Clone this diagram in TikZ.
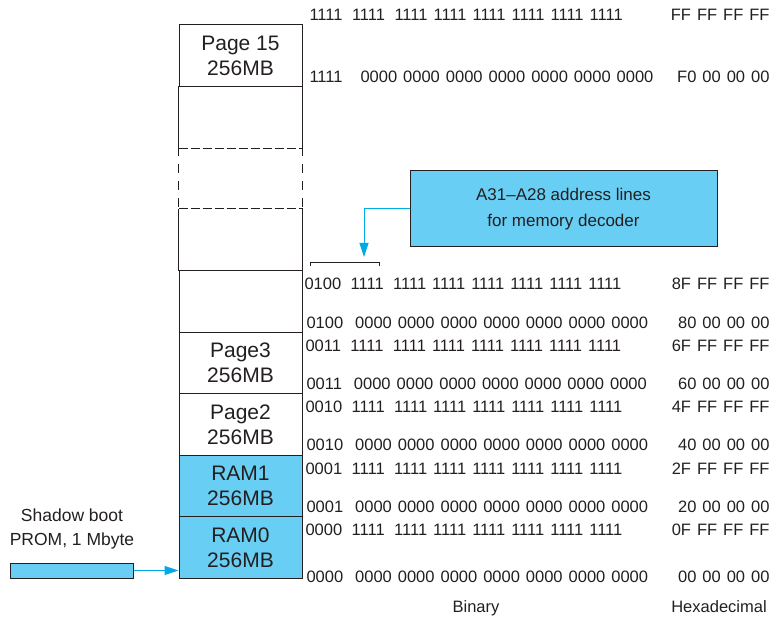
\documentclass[tikz,border=0pt]{standalone}
\usepackage{fontspec}
\setmainfont{Liberation Sans}
\usetikzlibrary{arrows.meta,calc}
\definecolor{ink}{RGB}{35,31,32}
\definecolor{lblue}{RGB}{104,206,244}
\definecolor{arrowblue}{RGB}{0,170,228}
\newcommand{\widespaces}{\spaceskip=6pt\relax}
\newcommand{\gp}{\hspace{9.5pt}}
\begin{document}
\begin{tikzpicture}[x=1pt,y=1pt,line width=1pt,
  cell/.style={minimum width=123pt,minimum height=61.5pt,inner sep=0pt,align=center,
    font=\fontsize{21}{25}\selectfont,text=ink},
  bin/.style={anchor=west,inner sep=0pt,text=ink,font=\fontsize{16.5}{20}\selectfont,
    execute at begin node=\widespaces},
  hex/.style={anchor=east,inner sep=0pt,text=ink,font=\fontsize{16.5}{20}\selectfont,
    execute at begin node=\widespaces},
  lbl/.style={inner sep=0pt,text=ink,align=center,font=\fontsize{16.5}{24}\selectfont},
  barrow/.style={draw=arrowblue,line width=1pt,-{Triangle[length=14pt,width=9pt]}},
  hdash/.style={dash pattern=on 9pt off 3pt},
  vdash/.style={dash pattern=on 9pt off 8pt}]
\useasboundingbox (0,0) rectangle (777,-617);

% memory column
\node[cell,draw=ink] (p15) at (240.5,-55.75) {Page 15\\256MB};
\node[cell] (e1) at (240.5,-117.25) {};
\node[cell] (gapc) at (240.5,-178.75) {};
\node[cell] (e2) at (240.5,-240.25) {};
\node[cell,draw=ink] (e3) at (240.5,-301.75) {};
\node[cell,draw=ink] (p3) at (240.5,-363.25) {Page3\\256MB};
\node[cell,draw=ink] (p2) at (240.5,-424.75) {Page2\\256MB};
\node[cell,draw=ink,fill=lblue] (ram1) at (240.5,-486.25) {RAM1\\256MB};
\node[cell,draw=ink,fill=lblue] (ram0) at (240.5,-547.75) {RAM0\\256MB};
\draw[ink] (e1.south west) -- (e1.north west) (e1.north east) -- (e1.south east);
\draw[ink,hdash] (e1.south west) -- (e1.south east);
\draw[ink,vdash] (gapc.north west) -- (gapc.south west) (gapc.north east) -- (gapc.south east);
\draw[ink,hdash] (e2.north west) -- (e2.north east);
\draw[ink] (e2.north west) -- (e2.south west) (e2.south east) -- (e2.north east);

% binary addresses
\node[bin] (b1) at (309,-15) {1111\gp 1111\gp 1111 1111 1111 1111 1111 1111};
\node[bin] (b2) at (309,-77) {1111~~~0000 0000 0000 0000 0000 0000 0000};
\node[bin] (b3) at (304,-284) {0100\gp 1111\gp 1111 1111 1111 1111 1111 1111};
\node[bin] (b4) at (306,-323) {0100~~0000 0000 0000 0000 0000 0000 0000};
\node[bin] (b5) at (305,-346) {0011\gp 1111\gp 1111 1111 1111 1111 1111 1111};
\node[bin] (b6) at (306,-384) {0011~~0000 0000 0000 0000 0000 0000 0000};
\node[bin] (b7) at (305,-407) {0010\gp 1111\gp 1111 1111 1111 1111 1111 1111};
\node[bin] (b8) at (306,-445) {0010~~0000 0000 0000 0000 0000 0000 0000};
\node[bin] (b9) at (305,-469) {0001\gp 1111\gp 1111 1111 1111 1111 1111 1111};
\node[bin] (b10) at (306,-507) {0001~~0000 0000 0000 0000 0000 0000 0000};
\node[bin] (b11) at (305,-530) {0000\gp 1111\gp 1111 1111 1111 1111 1111 1111};
\node[bin] (b12) at (306,-577) {0000~~0000 0000 0000 0000 0000 0000 0000};

% hexadecimal addresses
\node[hex] (h1) at (770,-15) {FF FF FF FF};
\node[hex] (h2) at (770,-77) {F0 00 00 00};
\node[hex] (h3) at (770,-284) {8F FF FF FF};
\node[hex] (h4) at (770,-323) {80 00 00 00};
\node[hex] (h5) at (770,-346) {6F FF FF FF};
\node[hex] (h6) at (770,-384) {60 00 00 00};
\node[hex] (h7) at (770,-407) {4F FF FF FF};
\node[hex] (h8) at (770,-445) {40 00 00 00};
\node[hex] (h9) at (770,-469) {2F FF FF FF};
\node[hex] (h10) at (770,-507) {20 00 00 00};
\node[hex] (h11) at (770,-530) {0F FF FF FF};
\node[hex] (h12) at (770,-577) {00 00 00 00};

\node[lbl,anchor=base] (binlbl) at (476,-612) {Binary};
\node[lbl,anchor=base] (hexlbl) at (719,-612) {Hexadecimal};

% decoder box, arrow and bracket
\node[draw=ink,fill=lblue,minimum width=307pt,minimum height=76pt,inner sep=0pt,
  align=center,text=ink,font=\fontsize{17}{26}\selectfont] (dec) at (563.5,-209)
  {A31--A28 address lines\\for memory decoder};
\coordinate (tip) at (364,-257);
\draw[barrow] (dec.west) -| (tip);
\coordinate (br1) at (310,-263);
\coordinate (br2) at (379,-263);
\draw[ink] ($(br1)+(0,-3)$) -- (br1) -- (br2) -- ($(br2)+(0,-3)$);

% shadow boot PROM
\node[lbl,font=\fontsize{17.5}{24}\selectfont] (shadow) at (72,-529) {Shadow boot\\PROM, 1 Mbyte};
\node[draw=ink,fill=lblue,minimum width=123pt,minimum height=15pt,inner sep=0pt] (bar) at (71.5,-570.5) {};
\draw[barrow] (bar.east) -- (bar.east -| ram0.west);
\end{tikzpicture}
\end{document}
